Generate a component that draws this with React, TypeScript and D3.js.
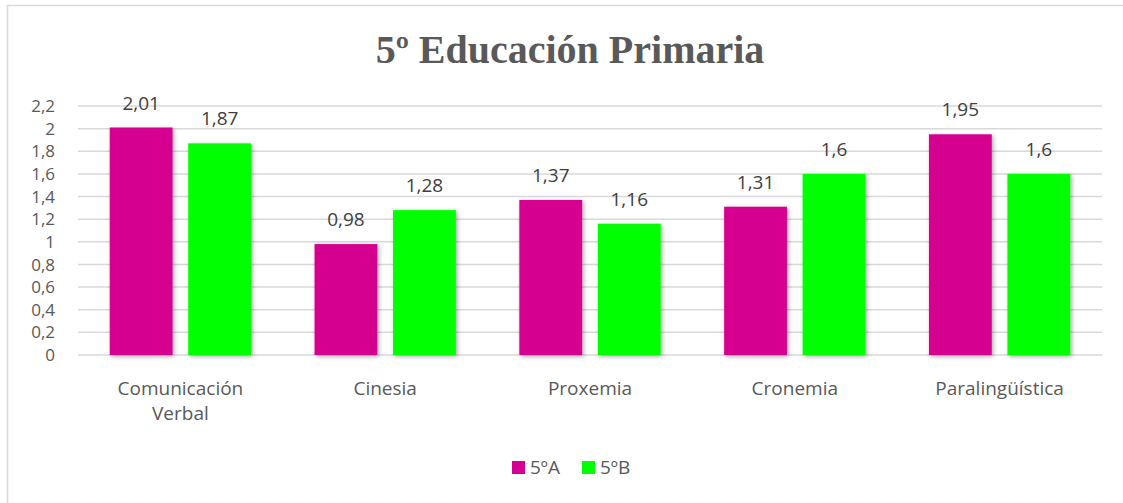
import React from "react";
import * as d3 from "d3";

const categories = [["Comunicación", "Verbal"], ["Cinesia"], ["Proxemia"], ["Cronemia"], ["Paralingüística"]];
const seriesNames = ["5ºA", "5ºB"];
const seriesA = [2.01, 0.98, 1.37, 1.31, 1.95];
const seriesB = [1.87, 1.28, 1.16, 1.6, 1.6];
const yTicks = [0, 0.2, 0.4, 0.6, 0.8, 1, 1.2, 1.4, 1.6, 1.8, 2, 2.2];
const colors = ["#D5008F", "#00FF00"];

const W = 1123, H = 503;
const left = 78, right = 1102, top = 106, bottom = 355;
const fmt = (v: number) => String(v).replace(".", ",");
const font = "'Open Sans', sans-serif";
const fs = 19;

export default function App() {
  const x0 = d3.scaleBand<number>().domain(d3.range(categories.length)).range([left, right]).paddingInner(0.31).paddingOuter(0.155);
  const x1 = d3.scaleBand<number>().domain([0, 1]).range([0, x0.bandwidth()]).paddingInner(0.2);
  const y = d3.scaleLinear().domain([0, 2.2]).range([bottom, top]);
  const series = [seriesA, seriesB];
  return (
    <svg width={W} height={H} style={{ position: "absolute", left: 0, top: 0, background: "#fff" }}>
      <defs>
        <filter id="sh" x="-20%" y="-20%" width="150%" height="150%">
          <feDropShadow dx="1.5" dy="1.5" stdDeviation="2" floodColor="#000" floodOpacity="0.35" />
        </filter>
      </defs>
      <rect x={7.5} y={5.5} width={W + 10} height={H + 10} fill="#fff" stroke="#d9d9d9" strokeWidth={1.5} />
      <text x={570} y={63} textAnchor="middle" fontFamily="'Liberation Serif', serif" fontWeight="bold" fontSize={40} fill="#595959">5º Educación Primaria</text>
      {yTicks.map((t) => (
        <g key={t}>
          <line x1={left} x2={right} y1={y(t)} y2={y(t)} stroke="#d9d9d9" strokeWidth={1.5} />
          <text x={55} y={y(t)} dy="0.36em" textAnchor="end" fontFamily={font} fontSize={17} fill="#595959">{fmt(t)}</text>
        </g>
      ))}
      {categories.map((c, i) => (
        <g key={i}>
          {series.map((s, j) => {
            const bx = (x0(i) as number) + (x1(j) as number);
            return (
              <g key={j}>
                <rect x={bx} y={y(s[i])} width={x1.bandwidth()} height={bottom - y(s[i])} fill={colors[j]} filter="url(#sh)" />
                <text x={bx + x1.bandwidth() / 2} y={y(s[i]) - 18} textAnchor="middle" fontFamily={font} fontSize={fs} fill="#404040">{fmt(s[i])}</text>
              </g>
            );
          })}
          {c.map((line, k) => (
            <text key={k} x={(x0(i) as number) + x0.bandwidth() / 2} y={395 + k * 25} textAnchor="middle" fontFamily={font} fontSize={fs} fill="#595959">{line}</text>
          ))}
        </g>
      ))}
      {seriesNames.map((n, j) => (
        <g key={n} transform={`translate(${512 + j * 70},461)`}>
          <rect width={13} height={13} fill={colors[j]} />
          <text x={18} y={13} fontFamily={font} fontSize={fs} fill="#595959">{n}</text>
        </g>
      ))}
    </svg>
  );
}
